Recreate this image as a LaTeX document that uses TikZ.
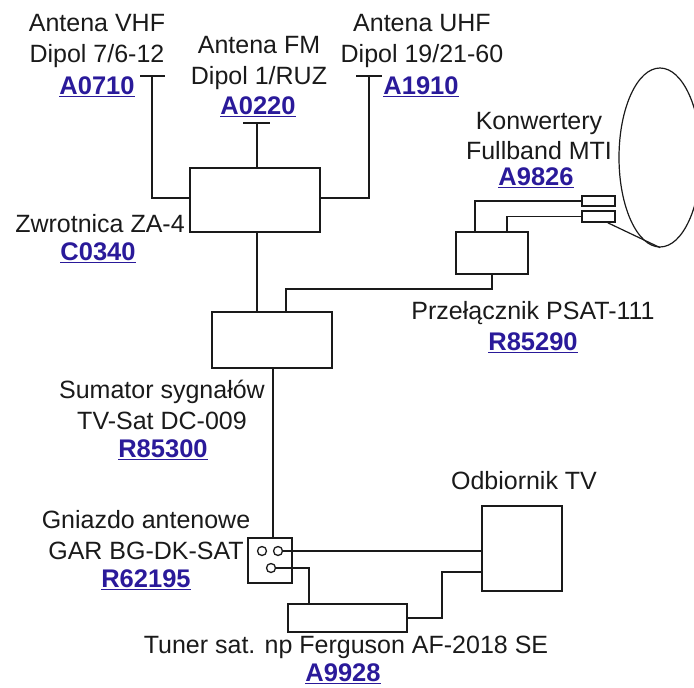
\documentclass[tikz,border=0pt]{standalone}
\usepackage{fontspec}
\setmainfont{Liberation Sans}
\usepackage{tikz}
\usetikzlibrary{shapes.geometric}
\definecolor{codeblue}{HTML}{2A1A9A}
\definecolor{wire}{HTML}{1A1A1A}
\tikzset{
    box/.style={draw=wire, line width=1.6pt, inner sep=0pt},
    port/.style={circle, draw=wire, line width=1.3pt, minimum size=9pt, inner sep=0pt},
    conn/.style={draw=wire, line width=1.6pt},
    lbl/.style={align=center, inner sep=0pt, text=wire, font=\fontsize{25}{30.5}\selectfont},
    code/.style={inner sep=0pt, text=codeblue, font=\fontsize{25.5}{30}\selectfont\bfseries}
}
\begin{document}
\begin{tikzpicture}[x=1pt, y=-1pt]
    \useasboundingbox (0,0) rectangle (694,688);

    % boxes
    \node[box, minimum width=130pt, minimum height=64pt] (zwrotnica) at (255,200) {};
    \node[box, minimum width=120pt, minimum height=56pt] (sumator) at (272,340) {};
    \node[box, minimum width=72pt, minimum height=42pt] (przelacznik) at (492,253) {};
    \node[box, minimum width=33pt, minimum height=10.5pt] (konwA) at (598.5,201) {};
    \node[box, minimum width=33pt, minimum height=11pt] (konwB) at (598.5,216.5) {};
    \node[box, minimum width=44pt, minimum height=45pt] (gniazdo) at (270,560.5) {};
    \node[box, minimum width=119pt, minimum height=28pt] (tuner) at (347.5,618) {};
    \node[box, minimum width=80pt, minimum height=85pt] (odbiornik) at (522,548.5) {};
    \node[port] (portA) at (262,551) {};
    \node[port] (portB) at (278,551) {};
    \node[port] (portC) at (271,568) {};

    % antennas
    \coordinate (vhfL) at (140,76);
    \coordinate (vhfR) at (165,76);
    \coordinate (vhf) at (152,76);
    \coordinate (fmL) at (243,123);
    \coordinate (fmR) at (270,123);
    \coordinate (fm) at (257,123);
    \coordinate (uhfL) at (356,76);
    \coordinate (uhfR) at (382,76);
    \coordinate (uhf) at (369,76);
    \draw[conn] (vhfL) -- (vhfR);
    \draw[conn] (fmL) -- (fmR);
    \draw[conn] (uhfL) -- (uhfR);
    \draw[conn] (vhf) |- (zwrotnica.west |- 0,198);
    \draw[conn] (uhf) |- (zwrotnica.east |- 0,198);
    \draw[conn] (fm) -- (fm |- zwrotnica.north);

    % dish
    \begin{scope}
        \clip (600,50) rectangle (694,260);
        \node[draw=wire, line width=1.2pt, ellipse, minimum width=82pt, minimum height=179pt, inner sep=0pt] (czasza) at (660,157.5) {};
    \end{scope}
    \draw[wire, line width=1.2pt] ([xshift=-8pt]konwB.south east) -- (czasza.south);

    % connections
    \draw[conn] (257,0 |- zwrotnica.south) -- (257,0 |- sumator.north);
    \draw[conn] (273,0 |- sumator.south) -- (273,0 |- gniazdo.north);
    \draw[conn] (konwA.west) -| (475,0 |- przelacznik.north);
    \draw[conn] (konwB.west) -| (507,0 |- przelacznik.north);
    \draw[conn] (przelacznik.south) |- (286,289) -- (286,0 |- sumator.north);
    \draw[conn] (portB.east) -- (portB.east -| odbiornik.west);
    \draw[conn] (portC.east) -| (309,0 |- tuner.north);
    \draw[conn] (tuner.east) -| (442,572) -- (odbiornik.west |- 0,572);

    % labels
    \node[lbl] (vhfLbl) at (97,41) {Antena VHF\\Dipol 7/6-12};
    \node[code] (vhfCode) at (97,87) {\underline{A0710}};
    \node[lbl] (fmLbl) at (259,63) {Antena FM\\Dipol 1/RUZ};
    \node[code] (fmCode) at (258,107) {\underline{A0220}};
    \node[lbl] (uhfLbl) at (422,41) {Antena UHF\\Dipol 19/21-60};
    \node[code] (uhfCode) at (421,87) {\underline{A1910}};
    \node[lbl] (zwrotnicaLbl) at (100,224) {Zwrotnica ZA-4};
    \node[code] (zwrotnicaCode) at (98,253) {\underline{C0340}};
    \node[lbl] (konwLbl) at (539,136) {Konwertery\\Fullband MTI};
    \node[code] (konwCode) at (536,178) {\underline{A9826}};
    \node[lbl] (przelacznikLbl) at (533,313) {Przełącznik PSAT-111};
    \node[code] (przelacznikCode) at (533,343) {\underline{R85290}};
    \node[lbl] (sumatorLbl) at (162,405) {Sumator sygnałów\\TV-Sat DC-009};
    \node[code] (sumatorCode) at (163,450) {\underline{R85300}};
    \node[lbl] (gniazdoLbl) at (146,535) {Gniazdo antenowe\\GAR BG-DK-SAT};
    \node[code] (gniazdoCode) at (146,580) {\underline{R62195}};
    \node[lbl] (odbiornikLbl) at (524,481) {Odbiornik TV};
    \node[lbl] (tunerLbl) at (346,647) {Tuner sat. np Ferguson AF-2018 SE};
    \node[code] (tunerCode) at (343,674) {\underline{A9928}};
\end{tikzpicture}
\end{document}
